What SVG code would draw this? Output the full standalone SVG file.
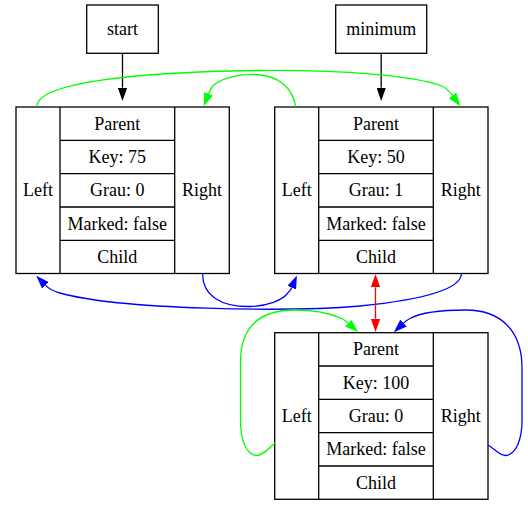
<svg xmlns="http://www.w3.org/2000/svg" width="528" height="509" viewBox="0 0 528 509">
<style>
.box{fill:#fff;stroke:#000;stroke-width:1.3}
.ln{stroke:#000;stroke-width:1.3;fill:none}
text{font-family:"Liberation Serif","Times New Roman",Times,"DejaVu Serif",serif;font-size:18px;text-anchor:middle;fill:#000}
.e{fill:none;stroke-width:1.3}
</style>
<defs>
<marker id="ak" markerUnits="userSpaceOnUse" viewBox="0 0 13.3 9.4" refX="0" refY="4.7" markerWidth="13.3" markerHeight="9.4" orient="auto"><path d="M0,0 L13.3,4.7 L0,9.4 z" fill="#000"/></marker>
<marker id="ag" markerUnits="userSpaceOnUse" viewBox="0 0 13.3 9.4" refX="0" refY="4.7" markerWidth="13.3" markerHeight="9.4" orient="auto"><path d="M0,0 L13.3,4.7 L0,9.4 z" fill="#00ff00"/></marker>
<marker id="ab" markerUnits="userSpaceOnUse" viewBox="0 0 13.3 9.4" refX="0" refY="4.7" markerWidth="13.3" markerHeight="9.4" orient="auto"><path d="M0,0 L13.3,4.7 L0,9.4 z" fill="#0000ff"/></marker>
<marker id="ar" markerUnits="userSpaceOnUse" viewBox="0 0 13.3 9.4" refX="0" refY="4.7" markerWidth="13.3" markerHeight="9.4" orient="auto-start-reverse"><path d="M0,0 L13.3,4.7 L0,9.4 z" fill="#ff0000"/></marker>
</defs>

<g id="start">
<rect class="box" x="86.7" y="5" width="71.6" height="48.3"/>
<text x="122.5" y="35" font-family="Liberation Serif, serif">start</text>
</g>
<g id="minimum">
<rect class="box" x="335.7" y="5" width="91" height="48.3"/>
<text x="381.2" y="35">minimum</text>
</g>

<g id="node75">
<rect class="box" x="16" y="107" width="213.3" height="166.5"/>
<path class="ln" d="M60,107V273.5M174.7,107V273.5M60,140.3H174.7M60,173.6H174.7M60,207H174.7M60,240.3H174.7"/>
<text x="38" y="196.3">Left</text>
<text x="202" y="196.3">Right</text>
<text x="117.3" y="129.7">Parent</text>
<text x="117.3" y="163">Key: 75</text>
<text x="117.3" y="196.3">Grau: 0</text>
<text x="117.3" y="229.6">Marked: false</text>
<text x="117.3" y="263">Child</text>
</g>

<g id="node50">
<rect class="box" x="274.7" y="107" width="213.3" height="166.5"/>
<path class="ln" d="M318.7,107V273.5M433.3,107V273.5M318.7,140.3H433.3M318.7,173.6H433.3M318.7,207H433.3M318.7,240.3H433.3"/>
<text x="296.7" y="196.3">Left</text>
<text x="460.7" y="196.3">Right</text>
<text x="376" y="129.7">Parent</text>
<text x="376" y="163">Key: 50</text>
<text x="376" y="196.3">Grau: 1</text>
<text x="376" y="229.6">Marked: false</text>
<text x="376" y="263">Child</text>
</g>

<g id="node100">
<rect class="box" x="274.7" y="332.7" width="213.3" height="166.6"/>
<path class="ln" d="M318.7,332.7V499.3M433.3,332.7V499.3M318.7,366H433.3M318.7,399.3H433.3M318.7,432.7H433.3M318.7,466H433.3"/>
<text x="296.7" y="422">Left</text>
<text x="460.7" y="422">Right</text>
<text x="376" y="355.3">Parent</text>
<text x="376" y="388.7">Key: 100</text>
<text x="376" y="422">Grau: 0</text>
<text x="376" y="455.3">Marked: false</text>
<text x="376" y="488.7">Child</text>
</g>

<g id="connectors">
<path class="e" stroke="#000" marker-end="url(#ak)" d="M122.5,53.3 L122.5,87.7"/>
<path class="e" stroke="#000" marker-end="url(#ak)" d="M381.2,53.3 L381.2,87.7"/>
<path class="e" stroke="#00ff00" marker-end="url(#ag)" d="M36.7,106.5 C38,82 140,72 255,70.5 C345,69.5 415,76 442,86 C446,88 449.5,91.5 452.5,95.5"/>
<path class="e" stroke="#00ff00" marker-end="url(#ag)" d="M295.7,107 C293,88 278,75 255,74.5 C235,74 218,80 212,87 C210.5,89 209.5,91.5 208.6,93.8"/>
<path class="e" stroke="#0000ff" marker-end="url(#ab)" d="M202.7,274 C202.5,296 222,307 250,306.5 C268,306 282,300 287,294 C289,291.5 290.8,289.8 291.7,287.7"/>
<path class="e" stroke="#0000ff" marker-end="url(#ab)" d="M461.5,273.5 C461,290 420,300 360,306 C290,312 120,310 60,293 C53,291 48.5,288.5 45.5,285.4"/>
<path class="e" stroke="#ff0000" marker-start="url(#ar)" marker-end="url(#ar)" d="M375.5,287.3 L375.5,318.7"/>
<path class="e" stroke="#00ff00" marker-end="url(#ag)" d="M275,443 C268,449 262,456 256,455.5 C246,454 240.5,440 240.5,420 L240.5,362 C240.5,328 258,310 295,310 C315,310 332,314 342,318.5 C344,319.8 346.3,321.4 348.2,323.1"/>
<path class="e" stroke="#0000ff" marker-end="url(#ab)" d="M488,445 C495,449 500,456 506,455.5 C516,454 522,440 522,420 L522,368 C522,330 500,310 466,310 C440,310 420,313 410,318.5 C407.5,319.8 405.3,321.4 403.5,323.1"/>
</g>
</svg>
